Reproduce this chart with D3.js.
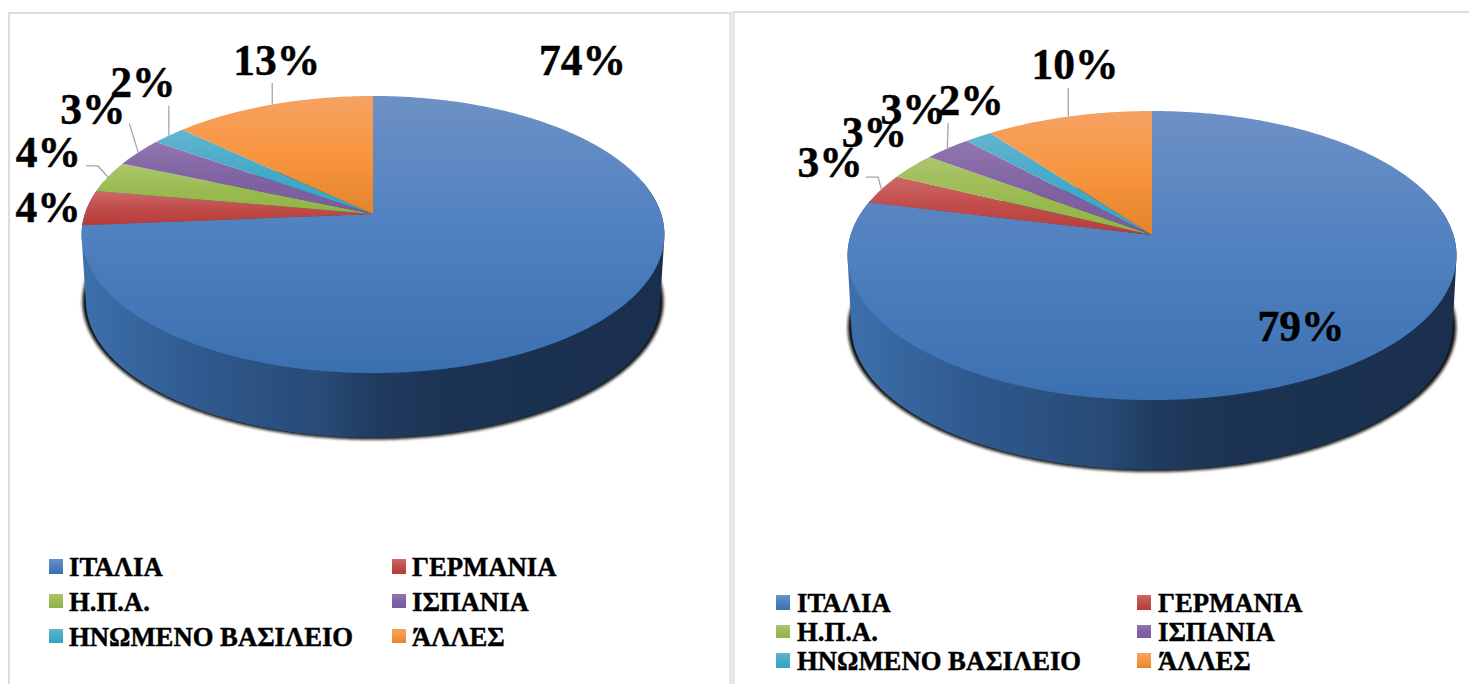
<!DOCTYPE html>
<html lang="el">
<head>
<meta charset="utf-8">
<title>Pie charts</title>
<script src="https://cdn.jsdelivr.net/npm/d3@7"></script>
<style>
html,body{margin:0;padding:0;background:#fff;overflow:hidden}
svg{display:block}
text{font-family:"Liberation Serif","Times New Roman",serif;font-weight:700;fill:#000;stroke:#000;stroke-width:.45px}
</style>
</head>
<body>
<svg id="chart" width="1469" height="684"></svg>
<script>
// ---------- data ----------
const categories = ["ΙΤΑΛΙΑ", "ΓΕΡΜΑΝΙΑ", "Η.Π.Α.", "ΙΣΠΑΝΙΑ", "ΗΝΩΜΕΝΟ ΒΑΣΙΛΕΙΟ", "ΆΛΛΕΣ"];
const leftValues  = [73.7, 4.1, 3.6, 3.4, 2.2, 13.0];
const rightValues = [78.8, 3.4, 3.0, 2.9, 1.7, 10.2];

// ---------- style ----------
const gradientStops = [
  ["#6d91c5", "#4f80c0", "#3b70b0"],
  ["#cd6966", "#c04d4a", "#b83b38"],
  ["#abc66c", "#9bbb52", "#90b245"],
  ["#9276b0", "#8063a2", "#7a5a9e"],
  ["#64b5cf", "#45a9c8", "#37a3c3"],
  ["#f5a263", "#f9953f", "#e3842c"]
];
const sideStops = [
  [0, "#3d70ab"], [0.2, "#2f5a8f"], [0.42, "#284a75"],
  [0.5, "#203c60"], [0.64, "#1b3252"], [1, "#1a2f4d"]
];

// ---------- layout ----------
const panels = [
  {
    id: "l", values: leftValues,
    cx: 373, cy: 214, A: 288.2, B: 135.5, k: 0.148, depth: 67, bottomScale: 0.985,
    labelOffsets: [[-26,-241],[-39,14],[-59.5,-10],[-45.5,-28.4],[-26,-39],[4.6,-29.5]],
    leaders: [null, null, [[-22,-11],[-10,-11]], [[-9,-29]], [[0,-30]], [[0,-21.5]]],
    legend: { col: [49, 392], textGap: 20, swatchY: [559, 594, 629], base: [576, 611, 646], swH: [15, 14, 14] }
  },
  {
    id: "r", values: rightValues,
    cx: 1152, cy: 235, A: 301.4, B: 141.6, k: 0.142, depth: 72, bottomScale: 0.987,
    labelOffsets: [[-60.7,-19.3],[-51.4,-12],[-37.8,-19.5],[-34,-24.6],[-7,-22],[6.6,-37.6]],
    leaders: [null, [[-15.4,-12.2],[-3.4,-12.2]], null, [[1,-25.6]], null, [[0,-28.6]]],
    legend: { col: [776, 1137], textGap: 21, swatchY: [595, 625, 653], base: [612, 641, 670], swH: [15, 13, 15] }
  }
];

const svg = d3.select("#chart");
const defs = svg.append("defs");

defs.append("filter").attr("id", "shadowBlur")
  .attr("x", "-5%").attr("y", "-5%").attr("width", "110%").attr("height", "110%")
  .append("feGaussianBlur").attr("stdDeviation", 1.8);

gradientStops.forEach((stops, i) => {
  const g = defs.append("linearGradient").attr("id", "grad" + i)
    .attr("x1", 0).attr("y1", 0).attr("x2", 0).attr("y2", 1);
  stops.forEach((c, j) => g.append("stop").attr("offset", j / (stops.length - 1)).attr("stop-color", c));
});
const sg = defs.append("linearGradient").attr("id", "side").attr("x1", 0).attr("y1", 0).attr("x2", 1).attr("y2", 0);
sideStops.forEach(s => sg.append("stop").attr("offset", s[0]).attr("stop-color", s[1]));

// panel frames
const frameColor = "#dcdcdc";
svg.append("path").attr("d", "M9,684V13H730.5V684").attr("fill", "none").attr("stroke", frameColor).attr("stroke-width", 2);
svg.append("path").attr("d", "M733.5,684V12H1469").attr("fill", "none").attr("stroke", frameColor).attr("stroke-width", 2);

const pie = d3.pie().sort(null).value(d => d);
const line = d3.line();
const format = d3.format(".0f");

panels.forEach(p => {
  // Perspective projection of a disc: angle 0 at the top, clockwise.
  const project = (a, scale = 1, dy = 0) => {
    const u = Math.sin(a), v = -Math.cos(a), w = 1 - p.k * v;
    return [p.cx + scale * p.A * u / w, p.cy + dy + scale * p.B * v / w];
  };
  const arcPoints = (a0, a1, scale, dy) => {
    const n = Math.max(2, Math.ceil(Math.abs(a1 - a0) / 0.01));
    return d3.range(n + 1).map(i => project(a0 + (a1 - a0) * i / n, scale, dy));
  };
  const g = svg.append("g");
  const arcs = pie(p.values);
  const fullBottom = arcPoints(0, 2 * Math.PI, p.bottomScale, p.depth);

  // drop shadow
  g.append("path")
    .attr("d", line(arcPoints(0, 2 * Math.PI, p.bottomScale * 1.012, p.depth)) + "Z")
    .attr("fill", "#111").attr("filter", "url(#shadowBlur)");

  // side wall: the slice at the front of the disc
  const sideA0 = Math.PI * 0.42, sideA1 = Math.PI * 1.58;
  const wall = arcPoints(sideA0, sideA1, 1, 0).concat(arcPoints(sideA1, sideA0, p.bottomScale, p.depth));
  const hull = d3.polygonHull(wall.concat(fullBottom.filter(q => q[1] > p.cy + p.depth)));
  g.append("path").attr("d", line(hull) + "Z").attr("fill", "url(#side)");

  // top surface
  g.selectAll("path.slice").data(arcs).join("path").attr("class", "slice")
    .attr("d", d => line([project(0, 0, 0)].concat(arcPoints(d.startAngle, d.endAngle, 1, 0))) + "Z")
    .attr("fill", (d, i) => `url(#grad${i})`);

  // leader lines
  arcs.forEach((d, i) => {
    const pts = p.leaders[i];
    if (!pts) return;
    const anchor = project((d.startAngle + d.endAngle) / 2);
    g.append("path")
      .attr("d", line(pts.map(o => [anchor[0] + o[0], anchor[1] + o[1]]).concat([anchor])))
      .attr("fill", "none").attr("stroke", "#a6a6a6").attr("stroke-width", 1.3);
  });

  // data labels
  g.selectAll("text.val").data(arcs).join("text").attr("class", "val")
    .attr("x", (d, i) => project((d.startAngle + d.endAngle) / 2)[0] + p.labelOffsets[i][0])
    .attr("y", (d, i) => project((d.startAngle + d.endAngle) / 2)[1] + p.labelOffsets[i][1])
    .attr("text-anchor", "middle").attr("font-size", 43.5)
    .text(d => format(d.value) + "%");

  // legend
  const lg = svg.append("g");
  categories.forEach((c, i) => {
    const col = i % 2, row = Math.floor(i / 2);
    lg.append("rect")
      .attr("x", p.legend.col[col]).attr("y", p.legend.swatchY[row])
      .attr("width", 14).attr("height", p.legend.swH[row])
      .attr("fill", `url(#grad${i})`);
    lg.append("text")
      .attr("x", p.legend.col[col] + p.legend.textGap).attr("y", p.legend.base[row])
      .attr("font-size", 26.7).text(c);
  });
});
</script>
</body>
</html>
